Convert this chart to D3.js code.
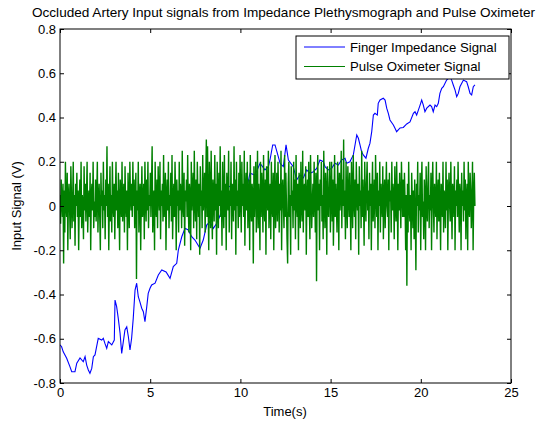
<!DOCTYPE html>
<html>
<head>
<meta charset="utf-8">
<script src="https://cdnjs.cloudflare.com/ajax/libs/d3/7.8.5/d3.min.js"></script>
<style>
body { margin: 0; background: #fff; }
text { font-family: "Liberation Sans", Arial, sans-serif; fill: #000; }
</style>
</head>
<body>
<svg id="chart" width="538" height="423"></svg>
<script>
// tick labels
var xTicks = [0, 5, 10, 15, 20, 25];
var yTicks = [-0.8, -0.6, -0.4, -0.2, 0, 0.2, 0.4, 0.6, 0.8];

// finger impedance signal (time s, volts)
var fingerTime = [0, 0.09, 0.18, 0.37, 0.55, 0.65, 0.83, 0.93, 1.11, 1.29, 1.39, 1.48, 1.57, 1.66, 1.76, 1.85, 1.94, 2.03, 2.12, 2.31,
    2.40, 2.49, 2.59, 2.68, 2.87, 3.01, 3.05, 3.14, 3.23, 3.33, 3.42, 3.51, 3.60, 3.70, 3.79, 3.88, 3.97, 4.06, 4.16, 4.25,
    4.34, 4.43, 4.53, 4.62, 4.71, 4.81, 4.89, 4.99, 5.08, 5.27, 5.45, 5.64, 5.88, 6.10, 6.28, 6.47, 6.56, 6.75, 6.93, 7.11,
    7.30, 7.48, 7.76, 7.94, 8.13, 8.31, 8.50, 8.69, 8.96, 9.24, 9.42, 9.70, 9.88, 10.25, 10.53, 10.81, 11.09, 11.36, 11.55, 11.64,
    11.79, 11.92, 12.05, 12.20, 12.38, 12.53, 12.66, 12.93, 13.12, 13.30, 13.49, 13.67, 13.86, 14.04, 14.23, 14.41, 14.60, 14.69, 14.87, 15.06,
    15.24, 15.43, 15.61, 15.80, 15.89, 16.07, 16.26, 16.45, 16.54, 16.63, 16.72, 16.81, 16.96, 17.09, 17.18, 17.28, 17.37, 17.46, 17.59, 17.64,
    17.74, 17.92, 18.02, 18.11, 18.20, 18.29, 18.48, 18.57, 18.66, 18.85, 19.03, 19.22, 19.40, 19.59, 19.68, 19.77, 19.96, 20.05, 20.14, 20.23,
    20.33, 20.51, 20.60, 20.69, 20.79, 20.88, 20.97, 21.06, 21.16, 21.25, 21.43, 21.62, 21.71, 21.80, 21.90, 21.99, 22.08, 22.17, 22.27, 22.36,
    22.54, 22.63, 22.73, 22.82, 22.91, 23.00];
var fingerValue = [-0.628, -0.636, -0.659, -0.688, -0.726, -0.749, -0.749, -0.710, -0.687, -0.704, -0.681, -0.719, -0.741, -0.756, -0.734, -0.681, -0.673, -0.636, -0.598, -0.606,
    -0.598, -0.621, -0.643, -0.613, -0.628, -0.606, -0.425, -0.455, -0.508, -0.575, -0.666, -0.613, -0.560, -0.546, -0.591, -0.651, -0.598, -0.508, -0.380, -0.349,
    -0.410, -0.433, -0.462, -0.478, -0.523, -0.455, -0.395, -0.372, -0.357, -0.349, -0.312, -0.289, -0.298, -0.327, -0.274, -0.259, -0.199, -0.139, -0.101, -0.108,
    -0.139, -0.154, -0.191, -0.154, -0.086, -0.071, -0.101, -0.078, -0.026, 0.095, 0.087, 0.072, 0.050, 0.035, 0.148, 0.140, 0.193, 0.163, 0.178, 0.208,
    0.276, 0.276, 0.238, 0.193, 0.178, 0.276, 0.208, 0.178, 0.118, 0.140, 0.127, 0.163, 0.148, 0.155, 0.170, 0.208, 0.200, 0.178, 0.163, 0.170,
    0.193, 0.185, 0.208, 0.216, 0.193, 0.200, 0.231, 0.321, 0.306, 0.276, 0.245, 0.231, 0.216, 0.261, 0.283, 0.336, 0.411, 0.419, 0.411, 0.464,
    0.479, 0.487, 0.479, 0.442, 0.419, 0.389, 0.366, 0.351, 0.336, 0.353, 0.355, 0.371, 0.380, 0.419, 0.426, 0.411, 0.456, 0.479, 0.456, 0.426,
    0.442, 0.456, 0.449, 0.426, 0.456, 0.449, 0.464, 0.509, 0.532, 0.539, 0.569, 0.584, 0.569, 0.547, 0.524, 0.494, 0.509, 0.539, 0.555, 0.569,
    0.562, 0.539, 0.509, 0.502, 0.539, 0.547];

// pulse oximeter signal, 30 samples per second from 0 to 23 s (one row per second)
var oxiStart = 0, oxiEnd = 23;
var oxiValue = [
    0.05, -0.08, 0.12, 0.02, -0.05, 0.1, -0.26, 0.07, -0.12, 0.2, 0, -0.05, 0.15, -0.2, 0.05, 0.1, -0.02, -0.15, 0.18, 0.05, -0.1, 0.02, 0.2, -0.07, 0.05, -0.18, 0.1, 0, 0.15, -0.05,
    0.07, -0.2, 0.02, 0.12, -0.05, 0.2, -0.1, 0.05, 0, -0.15, 0.18, -0.02, 0.1, -0.07, 0.05, 0.2, -0.12, 0, 0.07, -0.05, 0.15, -0.2, 0.05, 0.1, -0.02, 0.2, -0.1, 0.02, -0.05, 0.12,
    -0.07, 0.05, 0.2, -0.12, 0.02, 0.1, -0.05, -0.2, 0.15, 0, 0.07, -0.1, 0.2, -0.02, 0.05, -0.15, 0.12, 0, 0.27, -0.05, 0.1, -0.2, 0.02, 0.18, -0.07, 0.05, -0.12, 0.2, 0, -0.05,
    0.1, -0.15, 0.05, 0.2, -0.02, 0.07, -0.1, 0.15, 0, -0.2, 0.12, 0.05, -0.05, 0.2, -0.07, 0.02, 0.1, -0.12, 0.18, 0, -0.05, 0.07, -0.2, 0.15, 0.02, -0.1, 0.2, 0.05, -0.02, 0.1,
    -0.05, 0.2, 0, 0.12, -0.1, 0.05, 0.15, -0.33, 0.07, -0.02, 0.2, -0.12, 0.05, 0.1, -0.2, 0.02, 0.18, -0.05, 0, 0.1, -0.15, 0.2, 0.05, -0.07, 0.12, -0.02, 0.2, -0.1, 0.05, 0,
    0.15, -0.05, 0.1, 0.27, -0.12, 0.02, 0.07, -0.2, 0.2, 0, -0.05, 0.12, -0.1, 0.18, 0.05, -0.02, 0.2, -0.15, 0.07, 0, 0.1, -0.07, 0.23, -0.05, 0.02, 0.15, -0.2, 0.05, 0.12, -0.02,
    0.2, -0.1, 0.05, 0, 0.15, -0.07, 0.23, -0.15, 0.02, 0.1, -0.05, 0.2, 0.05, -0.2, 0.12, 0, 0.07, -0.12, 0.2, -0.02, 0.1, 0.05, -0.1, 0.25, 0, -0.05, 0.15, -0.18, 0.07, 0.02,
    0.12, -0.05, 0.23, 0, -0.12, 0.1, 0.05, -0.2, 0.2, -0.02, 0.07, 0.15, -0.1, 0.25, 0.02, -0.07, 0.12, -0.15, 0.2, 0.05, -0.05, 0.1, -0.22, 0.18, 0, 0.07, -0.1, 0.23, -0.02, 0.05,
    0.15, -0.12, 0.1, 0.3, -0.05, 0.27, 0.02, -0.2, 0.2, 0.07, -0.1, 0.25, 0, -0.15, 0.12, 0.05, -0.07, 0.23, -0.02, 0.1, -0.22, 0.2, 0.05, -0.1, 0.15, 0, 0.27, -0.05, 0.07, -0.18,
    0.2, 0.02, -0.1, 0.23, -0.05, 0.1, -0.2, 0.15, 0.05, -0.02, 0.25, -0.12, 0.07, 0, 0.2, -0.15, 0.1, 0.05, -0.07, 0.27, -0.02, 0.12, -0.22, 0.2, 0, 0.07, -0.1, 0.15, -0.05, 0.23,
    0.05, -0.12, 0.2, 0, 0.1, -0.05, 0.25, -0.18, 0.07, 0.15, -0.02, 0.2, -0.1, 0.05, 0.12, -0.2, 0.23, 0, -0.07, 0.1, 0.05, -0.26, 0.18, -0.05, 0.07, 0.2, -0.12, 0.02, 0.25, -0.1,
    0.1, 0.02, -0.2, 0.2, -0.05, 0.15, 0.05, -0.12, 0.23, 0, -0.07, 0.12, -0.22, 0.18, 0.07, -0.02, 0.25, -0.1, 0.05, 0.1, -0.15, 0.2, 0, -0.05, 0.15, -0.2, 0.07, 0.23, -0.1, 0.02,
    0.15, -0.07, 0.2, 0.05, -0.12, 0.1, -0.02, 0.25, -0.2, 0.07, 0.12, 0, -0.1, 0.23, -0.05, 0.15, 0.02, -0.15, -0.26, 0.1, 0.2, -0.05, 0.05, -0.22, 0.18, 0, 0.07, -0.1, 0.2, -0.02,
    0.12, -0.15, 0.23, 0.02, -0.05, 0.1, -0.2, 0.15, 0.05, -0.1, 0.2, 0, -0.07, 0.25, -0.12, 0.07, 0.1, -0.02, 0.18, -0.22, 0.05, 0.12, -0.05, 0.2, 0, -0.15, 0.23, 0.07, -0.1, 0.02,
    0.1, -0.05, 0.2, 0.05, -0.12, 0.15, -0.34, 0.07, 0.23, -0.02, 0.1, -0.2, 0.12, 0, 0.2, -0.07, 0.05, -0.15, 0.25, 0.02, -0.1, 0.15, 0.07, -0.22, 0.18, 0, -0.05, 0.1, 0.2, -0.12,
    0.05, 0.2, -0.07, 0.12, -0.18, 0.02, 0.23, -0.05, 0.1, 0, -0.12, 0.2, 0.07, -0.2, 0.15, -0.02, 0.05, 0.25, -0.1, 0.12, 0, 0.3, -0.05, 0.07, -0.15, 0.2, 0.02, -0.1, 0.18, 0.05,
    -0.05, 0.15, 0, -0.2, 0.2, 0.07, -0.1, 0.23, 0.02, -0.05, 0.12, -0.15, 0.2, 0.05, -0.02, 0.1, -0.22, 0.18, 0, 0.07, -0.1, 0.25, -0.05, 0.12, 0.02, -0.18, 0.2, 0.05, -0.07, 0.1,
    0.2, -0.02, 0.07, -0.15, 0.15, 0, 0.1, -0.2, 0.05, 0.2, -0.07, 0.02, 0.12, -0.1, 0.23, 0.05, -0.05, 0.15, -0.2, 0.07, 0, 0.2, -0.12, 0.1, 0.02, -0.05, 0.18, -0.15, 0.05, 0.12,
    -0.1, 0.05, 0.2, 0, -0.05, 0.12, -0.2, 0.15, 0.02, 0.07, -0.12, 0.2, -0.02, 0.1, 0.05, -0.15, 0.18, 0, -0.07, 0.2, 0.05, -0.2, 0.1, -0.02, 0.15, 0.02, -0.1, 0.2, 0.07, -0.05,
    0.12, -0.05, 0.15, 0.02, -0.2, 0.05, -0.36, 0.1, -0.12, 0.2, 0, -0.07, 0.05, -0.2, 0.15, 0.02, -0.1, 0.07, -0.15, 0.12, -0.05, -0.29, 0.1, 0, 0.2, -0.12, 0.05, -0.02, 0.15, -0.2,
    0.07, 0.2, -0.05, 0.02, -0.15, 0.12, 0.05, -0.2, 0.18, 0, -0.07, 0.1, 0.2, -0.1, 0.05, -0.02, 0.15, -0.2, 0.07, 0.2, 0, -0.12, 0.1, 0.02, -0.05, 0.2, -0.15, 0.05, 0.12, -0.07,
    0.15, 0, -0.2, 0.1, 0.05, -0.05, 0.2, -0.12, 0.07, 0.02, -0.1, 0.2, -0.02, 0.12, -0.2, 0.05, 0.15, 0, -0.07, 0.2, 0.02, -0.15, 0.1, 0.05, -0.05, 0.18, -0.2, 0.07, 0, 0.12,
    -0.05, 0.2, 0.02, -0.12, 0.1, 0.05, -0.2, 0.15, 0, 0.07, -0.07, 0.2, -0.02, 0.12, -0.15, 0.05, 0.1, -0.2, 0.2, 0, -0.05, 0.15, 0.07, -0.1, 0.02, 0.2, -0.2, 0.05, 0.15, 0
];

var seriesNames = ["Finger Impedance Signal", "Pulse Oximeter Signal"];
var seriesColors = ["#0000ff", "#008000"];

var svg = d3.select("#chart");
var plotLeft = 60, plotRight = 511, plotTop = 29, plotBottom = 383;

var x = d3.scaleLinear().domain([0, 25]).range([plotLeft, plotRight]);
var y = d3.scaleLinear().domain([-0.8, 0.8]).range([plotBottom, plotTop]);

function fmt(d) {
    if (Math.abs(d) < 1e-9) return "0";
    return String(+d.toFixed(1));
}

svg.append("rect")
    .attr("width", 538).attr("height", 423)
    .attr("fill", "#fff");

svg.append("defs").append("clipPath").attr("id", "plotclip")
    .append("rect")
    .attr("x", plotLeft).attr("y", plotTop)
    .attr("width", plotRight - plotLeft).attr("height", plotBottom - plotTop);

var finger = fingerTime.map(function(t, i) { return [t, fingerValue[i]]; });
var oxiStep = (oxiEnd - oxiStart) / (oxiValue.length - 1);
var oxi = oxiValue.map(function(v, i) { return [oxiStart + i * oxiStep, v]; });

var line = d3.line()
    .x(function(d) { return x(d[0]); })
    .y(function(d) { return y(d[1]); });

var plot = svg.append("g").attr("clip-path", "url(#plotclip)");

plot.append("path")
    .datum(finger)
    .attr("d", line)
    .attr("fill", "none")
    .attr("stroke", seriesColors[0])
    .attr("stroke-width", 1.1);

plot.append("path")
    .datum(oxi)
    .attr("d", line)
    .attr("fill", "none")
    .attr("stroke", seriesColors[1])
    .attr("stroke-width", 1.4);

// axes, ticks pointing inwards on all four sides
svg.append("g")
    .attr("transform", "translate(0," + plotBottom + ")")
    .call(d3.axisBottom(x).tickValues(xTicks).tickFormat(fmt)
        .tickSizeInner(-4).tickSizeOuter(0).tickPadding(5));
svg.append("g")
    .attr("transform", "translate(0," + plotTop + ")")
    .call(d3.axisTop(x).tickValues(xTicks).tickFormat("")
        .tickSizeInner(-4).tickSizeOuter(0));
svg.append("g")
    .attr("transform", "translate(" + plotLeft + ",0)")
    .call(d3.axisLeft(y).tickValues(yTicks).tickFormat(fmt)
        .tickSizeInner(-4).tickSizeOuter(0).tickPadding(4));
svg.append("g")
    .attr("transform", "translate(" + plotRight + ",0)")
    .call(d3.axisRight(y).tickValues(yTicks).tickFormat("")
        .tickSizeInner(-4).tickSizeOuter(0));

svg.selectAll(".domain").remove();
svg.selectAll(".tick line").attr("stroke", "#000");
svg.selectAll(".tick text")
    .style("font-family", "'Liberation Sans', Arial, sans-serif")
    .style("font-size", "13px")
    .attr("fill", "#000");

svg.append("rect")
    .attr("x", plotLeft).attr("y", plotTop)
    .attr("width", plotRight - plotLeft).attr("height", plotBottom - plotTop)
    .attr("fill", "none")
    .attr("stroke", "#000")
    .attr("stroke-width", 1);

// titles
svg.append("text")
    .attr("x", 283.5).attr("y", 17)
    .attr("text-anchor", "middle")
    .attr("textLength", 503)
    .attr("lengthAdjust", "spacingAndGlyphs")
    .style("font-size", "13px")
    .text("Occluded Artery Input signals from Impedance Plethysmograph and Pulse Oximeter");

svg.append("text")
    .attr("x", 285).attr("y", 416)
    .attr("text-anchor", "middle")
    .style("font-size", "13px")
    .text("Time(s)");

svg.append("text")
    .attr("transform", "translate(21,206) rotate(-90)")
    .attr("text-anchor", "middle")
    .style("font-size", "13px")
    .text("Input Signal (V)");

// legend
var legend = svg.append("g");
legend.append("rect")
    .attr("x", 296).attr("y", 36)
    .attr("width", 213).attr("height", 43)
    .attr("fill", "#fff")
    .attr("stroke", "#000")
    .attr("stroke-width", 1);

var rows = legend.selectAll(".row")
    .data(seriesNames)
    .enter()
    .append("g")
    .attr("class", "row")
    .attr("transform", function(d, i) { return "translate(0," + (47 + i * 19.5) + ")"; });

rows.append("line")
    .attr("x1", 304).attr("x2", 345)
    .attr("y1", 0).attr("y2", 0)
    .attr("stroke", function(d, i) { return seriesColors[i]; })
    .attr("stroke-width", 1);

rows.append("text")
    .attr("x", 350).attr("y", 4.5)
    .style("font-size", "13.2px")
    .text(function(d) { return d; });
</script>
</body>
</html>
